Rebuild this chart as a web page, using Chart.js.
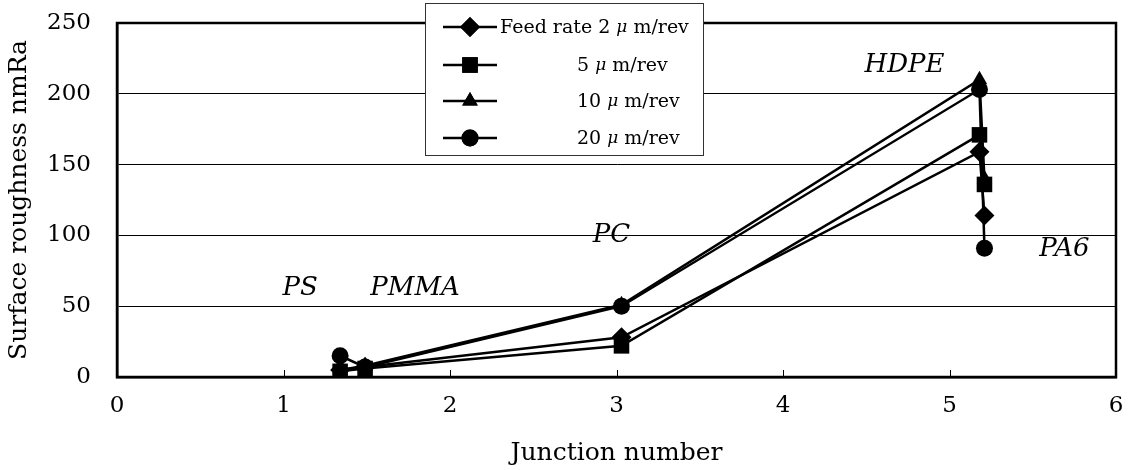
<!DOCTYPE html>
<html>
<head>
<meta charset="utf-8">
<script src="https://cdn.jsdelivr.net/npm/chart.js@4.4.0/dist/chart.umd.min.js"></script>
<style>
  html, body { margin: 0; padding: 0; background: #fff; }
  #wrap { width: 1128px; height: 470px; }
</style>
</head>
<body>
<div id="wrap"><canvas id="graf" width="1128" height="470"></canvas></div>
<script>
// junction positions of each material (x) and roughness per feed rate (y)
const materials = ["PS", "PMMA", "PC", "HDPE", "PA6"];
const junctionX = [1.34, 1.49, 3.03, 5.18, 5.21];
const feed2 = [5, 7, 28, 159, 114];
const feed5 = [4, 6, 22, 171, 136];
const feed10 = [5, 8, 51, 210, 140];
const feed20 = [15, 7, 50, 203, 91];
const seriesLabels = ["Feed rate 2 \u03bc m/rev", "5 \u03bc m/rev", "10 \u03bc m/rev", "20 \u03bc m/rev"];
const markerStyles = ["rectRot", "rect", "triangle", "circle"];
const markerRadius = [10, 11, 9, 8.5];
const xTicks = [0, 1, 2, 3, 4, 5, 6];
const yTicks = [0, 50, 100, 150, 200, 250];
// where the material names sit, in data units
const materialLabelX = [1.1, 1.79, 2.97, 4.73, 5.69];
const materialLabelY = [63, 63, 100, 220, 90];

const FONT = "'DejaVu Serif', 'Liberation Serif', serif";

function body(values) {
    return values.map(function(v, i) { return { x: junctionX[i], y: v }; });
}

const allSeries = [feed2, feed5, feed10, feed20];
const datasets = allSeries.map(function(vals, i) {
    return {
        label: seriesLabels[i],
        data: body(vals),
        borderColor: "#000",
        backgroundColor: "#000",
        borderWidth: 2.5,
        pointStyle: markerStyles[i],
        pointRadius: markerRadius[i],
        pointBorderWidth: 0,
        tension: 0
    };
});

// label text with the Greek mu set in italic
function kresliPopisek(ctx, text, x, y) {
    const parts = text.split("\u03bc");
    ctx.font = "19px " + FONT;
    ctx.fillText(parts[0], x, y);
    x += ctx.measureText(parts[0]).width;
    if (parts.length > 1) {
        ctx.font = "italic 17px " + FONT;
        ctx.fillText("\u03bc", x, y);
        x += ctx.measureText("\u03bc").width;
        ctx.font = "19px " + FONT;
        ctx.fillText(parts[1], x, y);
    }
}

const ramecek = {
    id: "ramecek",
    afterDraw: function(chart) {
        const ctx = chart.ctx, a = chart.chartArea;
        const xs = chart.scales.x, ys = chart.scales.y;
        ctx.save();
        // box around plot
        ctx.strokeStyle = "#000"; ctx.lineWidth = 2.5;
        ctx.strokeRect(a.left, a.top, a.right - a.left, a.bottom - a.top);
        // inward x ticks
        ctx.lineWidth = 1;
        xTicks.forEach(function(t) {
            const px = Math.round(xs.getPixelForValue(t)) + 0.5;
            ctx.beginPath(); ctx.moveTo(px, a.bottom); ctx.lineTo(px, a.bottom - 7); ctx.stroke();
        });
        // material names
        ctx.fillStyle = "#000";
        ctx.font = "italic 26px " + FONT;
        ctx.textAlign = "center"; ctx.textBaseline = "middle";
        materials.forEach(function(m, i) {
            ctx.fillText(m, xs.getPixelForValue(materialLabelX[i]), ys.getPixelForValue(materialLabelY[i]));
        });
        // legend
        const bx = 425, by = 3, bw = 278, bh = 152;
        ctx.fillStyle = "#fff"; ctx.fillRect(bx, by, bw, bh);
        ctx.strokeStyle = "#333"; ctx.lineWidth = 1;
        ctx.strokeRect(bx + 0.5, by + 0.5, bw, bh);
        const rows = [27, 65, 101, 138];
        ctx.textAlign = "left";
        chart.data.datasets.forEach(function(ds, i) {
            const ry = rows[i];
            ctx.strokeStyle = "#000"; ctx.lineWidth = 2.5;
            ctx.beginPath(); ctx.moveTo(443, ry); ctx.lineTo(497, ry); ctx.stroke();
            ctx.fillStyle = "#000";
            Chart.helpers.drawPoint(ctx, { pointStyle: ds.pointStyle, radius: ds.pointRadius, borderWidth: 0, rotation: 0 }, 470, ry);
            ctx.fill();
            ctx.fillStyle = "#000";
            kresliPopisek(ctx, ds.label, i === 0 ? 500 : 577, ry + 1);
        });
        ctx.restore();
    }
};

new Chart(document.getElementById("graf").getContext("2d"), {
    type: "line",
    data: { datasets: datasets },
    options: {
        responsive: false,
        animation: false,
        layout: { padding: { top: 23, right: 12, left: 0, bottom: 0 } },
        plugins: { legend: { display: false }, tooltip: { enabled: false } },
        scales: {
            x: {
                type: "linear", min: 0, max: 6,
                afterFit: function(s) { s.height = 93; s.paddingLeft = 0; s.paddingRight = 0; },
                afterBuildTicks: function(s) { s.ticks = xTicks.map(function(v) { return { value: v }; }); },
                grid: { display: false, drawTicks: false },
                border: { display: true, color: "#000", width: 2.5 },
                ticks: { color: "#000", font: { family: FONT, size: 23 }, padding: 15 },
                title: { display: true, text: "Junction number", color: "#000", font: { family: FONT, size: 25 }, padding: { top: 4, bottom: 2 } }
            },
            y: {
                min: 0, max: 250,
                afterFit: function(s) { s.width = 117; s.paddingTop = 0; s.paddingBottom = 0; },
                afterBuildTicks: function(s) { s.ticks = yTicks.map(function(v) { return { value: v }; }); },
                grid: { color: "#000", lineWidth: 1, drawTicks: false },
                border: { display: true, color: "#000", width: 2.5 },
                ticks: { color: "#000", font: { family: FONT, size: 23 }, padding: 26 },
                title: { display: true, text: "Surface roughness nmRa", color: "#000", font: { family: FONT, size: 25 }, padding: { top: 4, bottom: 0 } }
            }
        }
    },
    plugins: [ramecek]
});
</script>
</body>
</html>
